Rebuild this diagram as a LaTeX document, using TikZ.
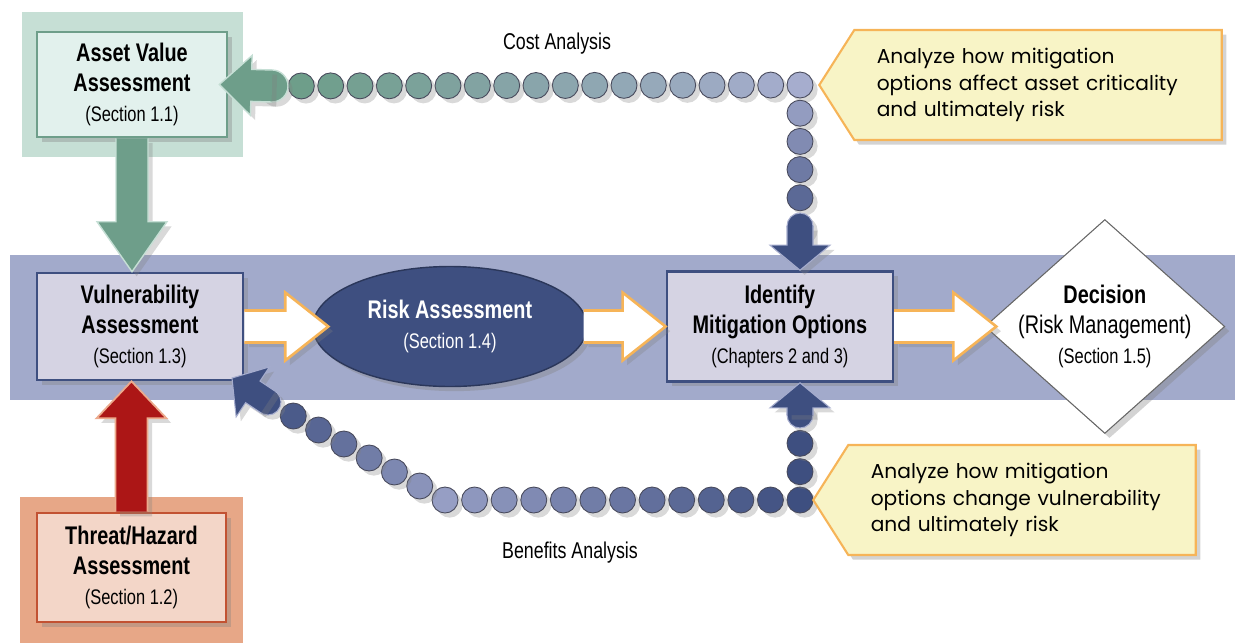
\documentclass[tikz,border=0pt]{standalone}
\usepackage{fontspec}
\setmainfont{Liberation Sans}
\newfontfamily\condfont[FakeStretch=0.78]{Liberation Sans}
\newfontfamily\notefont{Poppins}
\usepackage{tikz}
\usetikzlibrary{calc}
\usetikzlibrary{shapes.geometric,shapes.symbols,shadows,positioning}

\definecolor{bandblue}{RGB}{162,170,203}
\definecolor{sage}{RGB}{110,158,138}
\definecolor{sageback}{RGB}{198,223,213}
\definecolor{sagefill}{RGB}{226,241,237}
\definecolor{navy}{RGB}{62,79,128}
\definecolor{lavfill}{RGB}{213,211,227}
\definecolor{brick}{RGB}{172,22,22}
\definecolor{rustback}{RGB}{231,167,135}
\definecolor{rustfill}{RGB}{243,214,200}
\definecolor{rustline}{RGB}{194,82,50}
\definecolor{peach}{RGB}{236,170,140}
\definecolor{amber}{RGB}{246,180,88}
\definecolor{notefill}{RGB}{248,244,198}
\definecolor{dotlav}{RGB}{166,173,206}
\definecolor{dotpale}{RGB}{150,158,196}
\definecolor{dotedge}{RGB}{72,74,92}

\newcommand{\ttl}{\fontsize{14.5}{17}\selectfont\bfseries}
\newcommand{\sect}{\fontsize{12}{15}\selectfont\mdseries}

% block arrow from #2 to #3: shaft half width #4, head half width #5, head length #6
\newcommand{\blockarrow}[6][]{%
  \coordinate (ba_base) at ($(#3)!#6!(#2)$);
  \filldraw[#1] ($(#2)!#4!90:(#3)$) -- ($(ba_base)!#4!90:(#3)$) -- ($(ba_base)!#5!90:(#3)$)
    -- (#3) -- ($(ba_base)!#5!-90:(#3)$) -- ($(ba_base)!#4!-90:(#3)$) -- ($(#2)!#4!-90:(#3)$);
}

\tikzstyle{block} = [rectangle, draw=navy, line width=1.5pt, fill=lavfill,
    align=center, font=\condfont\ttl, inner sep=2pt, drop shadow={opacity=0.35}]
\tikzstyle{riskell} = [ellipse, draw=navy!70!black, line width=0.8pt, fill=navy, text=white,
    minimum width=5.48cm, minimum height=2.4cm, align=center, font=\condfont\ttl, drop shadow={opacity=0.35}]
\tikzstyle{decision} = [diamond, draw=black!60, fill=white, line width=0.6pt,
    minimum width=4.8cm, minimum height=4.28cm, inner xsep=-30pt, inner ysep=-15pt,
    align=center, font=\condfont\ttl, drop shadow={opacity=0.35}]
\tikzstyle{note} = [signal, signal to=west, signal pointer angle=115, draw=amber, line width=1.2pt,
    fill=notefill, align=left, font=\notefont\fontsize{11.5}{15.3}\selectfont,
    minimum height=2.2cm, inner xsep=0.45cm, drop shadow={opacity=0.35}]
\tikzstyle{fat} = [draw=amber, line width=1.5pt, fill=white, drop shadow={opacity=0.3}]
\tikzstyle{sagearrow} = [draw=sageback, line width=0.8pt, fill=sage, drop shadow={opacity=0.3}]
\tikzstyle{brickarrow} = [draw=peach, line width=1pt, fill=brick, drop shadow={opacity=0.3}]
\tikzstyle{navyarrow} = [draw=dotlav, line width=0.6pt, fill=navy, drop shadow={opacity=0.3}]
\tikzstyle{bead} = [draw=dotedge, line width=0.5pt, drop shadow={opacity=0.3}]
\tikzstyle{chainlbl} = [font=\condfont\fontsize{13}{15}\selectfont]

\begin{document}
\begin{tikzpicture}[x=0.02cm, y=-0.02cm, node distance=6.2cm]
\useasboundingbox (0,0) rectangle (1239,643);
%Backgrounds:
\fill[bandblue] (10,255) rectangle (1235,400);
\fill[sageback] (22,12) rectangle (243,157);
\fill[rustback] (20,497) rectangle (243,643);

%Boxes:
\node[block, draw=sage, fill=sagefill, minimum width=3.8cm, minimum height=2.1cm](AV_box) at (132,84.5) {Asset Value\\Assessment\\\sect (Section 1.1)};
\node[block, minimum width=4.12cm, minimum height=2.14cm](VA_box) at (140,326.5) {Vulnerability\\Assessment\\\sect (Section 1.3)};
\node[block, draw=rustline, fill=rustfill, minimum width=3.78cm, minimum height=2.18cm](TH_box) at (131.5,567.5) {Threat/Hazard\\Assessment\\\sect (Section 1.2)};
\node[riskell, right of = VA_box](RA_ell){Risk Assessment\\\sect (Section 1.4)};
\node[block, right of = RA_ell, node distance = 6.6cm, minimum width=4.52cm, minimum height=2.2cm](ID_box){Identify\\Mitigation Options\\\sect (Chapters 2 and 3)};
\node[decision, right of = ID_box, node distance = 6.5cm](DE_dia){Decision\\\mdseries (Risk Management)\\\sect (Section 1.5)};

%Chain ends:
\coordinate (c_top) at (800,85);
\coordinate (c_bot) at (800,500);
\coordinate (c_bend) at (445,500);
\coordinate (av_tail) at (272,86);
\coordinate (av_tip) at ($(AV_box.east)+(-9,0)$);
\coordinate (id_tail_a) at (800,226);
\coordinate (id_tip_a) at (ID_box.north -| c_top);
\coordinate (id_tail_b) at (800,415);
\coordinate (id_tip_b) at (ID_box.south -| c_bot);
\coordinate (va_tail) at (268,402);
\coordinate (va_tip) at (232,378);
\coordinate (va_top) at (AV_box.south |- VA_box.north);
\coordinate (va_bot) at (TH_box.north |- VA_box.south);
\coordinate (ra_in) at ($(RA_ell.west)+(16,0)$);
\coordinate (ra_out) at ($(RA_ell.east)+(-4,0)$);
\coordinate (de_in) at ($(DE_dia.west)+(12,0)$);

%Cost analysis chain:
\foreach \i in {0,...,17}{
  \pgfmathtruncatemacro\p{100*\i/17}
  \colorlet{beadc}{sage!\p!dotlav}
  \filldraw[bead, fill=beadc] ($(c_top)!{\i/18}!(av_tail)$) circle[radius=0.26cm];
}
\foreach \i in {1,...,4}{
  \pgfmathtruncatemacro\p{18*\i}
  \colorlet{beadc}{navy!\p!dotlav}
  \filldraw[bead, fill=beadc] ($(c_top)!{\i/5}!(id_tail_a)$) circle[radius=0.26cm];
}
\filldraw[sagearrow] (av_tail) circle[radius=0.32cm];
\blockarrow[sagearrow]{av_tail}{av_tip}{0.32cm}{0.6cm}{0.64cm}
\filldraw[navyarrow] (id_tail_a) circle[radius=0.26cm];
\blockarrow[navyarrow]{id_tail_a}{id_tip_a}{0.26cm}{0.6cm}{0.5cm}

%Benefits analysis chain:
\foreach \i in {0,...,12}{
  \pgfmathtruncatemacro\p{100*\i/12}
  \colorlet{beadc}{dotpale!\p!navy}
  \filldraw[bead, fill=beadc] ($(c_bot)!{\i/12}!(c_bend)$) circle[radius=0.26cm];
}
\foreach \i in {1,...,6}{
  \pgfmathtruncatemacro\p{100*\i/7}
  \colorlet{beadc}{navy!\p!dotpale}
  \filldraw[bead, fill=beadc] ($(c_bend)!{\i/7}!(va_tail)$) circle[radius=0.26cm];
}
\foreach \i in {1,2}{
  \filldraw[bead, fill=navy] ($(c_bot)!{\i/3}!(id_tail_b)$) circle[radius=0.26cm];
}
\filldraw[navyarrow] (va_tail) circle[radius=0.26cm];
\blockarrow[navyarrow]{va_tail}{va_tip}{0.26cm}{0.6cm}{0.5cm}
\filldraw[navyarrow] (id_tail_b) circle[radius=0.26cm];
\blockarrow[navyarrow]{id_tail_b}{id_tip_b}{0.26cm}{0.6cm}{0.5cm}

%Main flow:
\blockarrow[sagearrow]{AV_box.south}{va_top}{0.32cm}{0.7cm}{1cm}
\blockarrow[brickarrow]{TH_box.north}{va_bot}{0.32cm}{0.7cm}{0.74cm}
\blockarrow[fat]{VA_box.east}{ra_in}{0.32cm}{0.68cm}{0.86cm}
\blockarrow[fat]{ra_out}{ID_box.west}{0.32cm}{0.68cm}{0.86cm}
\blockarrow[fat]{ID_box.east}{de_in}{0.32cm}{0.68cm}{0.86cm}

%Notes:
\node[note, text width=6.45cm, anchor=west](CA_note) at ($(c_top)+(18,0)$){Analyze how mitigation\\options affect asset criticality\\and ultimately risk};
\node[note, text width=6.05cm, anchor=west](BA_note) at ($(c_bot)+(12,0)$){Analyze how mitigation\\options change vulnerability\\and ultimately risk};
\node[chainlbl](CA_lbl) at (557,44){Cost Analysis};
\node[chainlbl](BA_lbl) at (570,553){Benefits Analysis};
\end{tikzpicture}
\end{document}
